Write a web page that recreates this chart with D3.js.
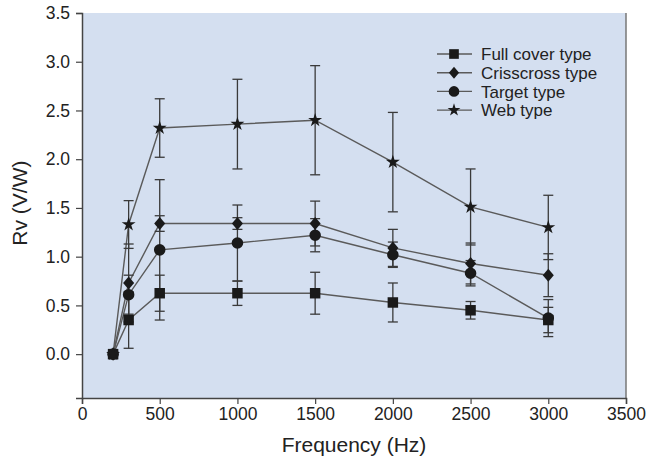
<!DOCTYPE html>
<html>
<head>
<meta charset="utf-8">
<script src="https://cdnjs.cloudflare.com/ajax/libs/d3/7.8.5/d3.min.js"></script>
<style>
  body { margin: 0; background: #fff; }
  text { font-family: "Liberation Sans", Arial, sans-serif; fill: #222; }
</style>
</head>
<body>
<script>
var width = 651;
var height = 465;

// data
var freq = [200, 300, 500, 1000, 1500, 2000, 2500, 3000];
var fullCover = [0, 0.35, 0.625, 0.625, 0.625, 0.53, 0.45, 0.35];
var fullCoverSd = [0, 0.29, 0.185, 0.125, 0.215, 0.20, 0.09, 0.13];
var crisscross = [0, 0.73, 1.34, 1.34, 1.34, 1.09, 0.93, 0.81];
var crisscrossSd = [0, 0.40, 0.08, 0.06, 0.23, 0.19, 0.21, 0.22];
var target = [0, 0.61, 1.07, 1.14, 1.22, 1.02, 0.83, 0.37];
var targetSd = [0, 0.20, 0.72, 0.39, 0.17, 0.13, 0.13, 0.19];
var web = [0, 1.33, 2.32, 2.36, 2.40, 1.97, 1.51, 1.30];
var webSd = [0, 0.245, 0.30, 0.46, 0.56, 0.51, 0.39, 0.33];

var seriesNames = ["Full cover type", "Crisscross type", "Target type", "Web type"];
var xTicks = [0, 500, 1000, 1500, 2000, 2500, 3000, 3500];
var yTicks = [0, 0.5, 1, 1.5, 2, 2.5, 3, 3.5];

var margin = {top: 13, right: 25, bottom: 67, left: 82};

var x = d3.scaleLinear().domain([0, 3500]).range([margin.left, width - margin.right]);
var y = d3.scaleLinear().domain([-0.45, 3.5]).range([height - margin.bottom, margin.top]);

// custom wide diamond
var wideDiamond = {
  draw: function (ctx, size) {
    var h = Math.sqrt(size) * 0.62, w = h * 0.85;
    ctx.moveTo(0, -h); ctx.lineTo(w, 0); ctx.lineTo(0, h); ctx.lineTo(-w, 0); ctx.closePath();
  }
};

var series = [
  {name: seriesNames[0], values: fullCover, sd: fullCoverSd, sym: d3.symbolSquare, size: 110},
  {name: seriesNames[1], values: crisscross, sd: crisscrossSd, sym: wideDiamond, size: 110},
  {name: seriesNames[2], values: target, sd: targetSd, sym: d3.symbolCircle, size: 105},
  {name: seriesNames[3], values: web, sd: webSd, sym: d3.symbolStar, size: 60}
];

var svg = d3.select("body").append("svg")
  .attr("width", width)
  .attr("height", height);

// plot background
svg.append("rect")
  .attr("x", x(0)).attr("y", y(3.5))
  .attr("width", x(3500) - x(0))
  .attr("height", y(-0.45) - y(3.5))
  .attr("fill", "#d4dff0");

// right frame line
svg.append("line")
  .attr("x1", x(3500)).attr("x2", x(3500))
  .attr("y1", y(3.5)).attr("y2", y(-0.45))
  .attr("stroke", "#777").attr("stroke-width", 1.5);

var xAxis = svg.append("g")
  .attr("transform", "translate(0," + y(-0.45) + ")")
  .call(d3.axisBottom(x).tickValues(xTicks).tickFormat(d3.format("d")).tickSizeOuter(0).tickSize(6).tickPadding(4));

var yAxis = svg.append("g")
  .attr("transform", "translate(" + x(0) + ",0)")
  .call(d3.axisLeft(y).tickValues(yTicks).tickFormat(d3.format(".1f")).tickSizeOuter(0).tickSize(6).tickPadding(6));

[xAxis, yAxis].forEach(function (g) {
  g.select(".domain").attr("stroke", "#444").attr("stroke-width", 1.5);
  g.selectAll(".tick line").attr("stroke", "#444").attr("stroke-width", 1.2);
  g.selectAll(".tick text").style("font-size", "17.5px").attr("fill", "#222")
    .style("font-family", "'Liberation Sans', Arial, sans-serif");
});

// axis titles
svg.append("text")
  .attr("x", (x(0) + x(3500)) / 2).attr("y", 452)
  .attr("text-anchor", "middle")
  .style("font-size", "21px")
  .text("Frequency (Hz)");

svg.append("text")
  .attr("transform", "translate(27," + y(1.55) + ") rotate(-90)")
  .attr("text-anchor", "middle")
  .style("font-size", "21px")
  .text("Rv (V/W)");

var line = d3.line()
  .x(function (d, i) { return x(freq[i]); })
  .y(function (d) { return y(d); });

// connecting lines
series.forEach(function (s) {
  svg.append("path")
    .datum(s.values)
    .attr("d", line)
    .attr("fill", "none")
    .attr("stroke", "#5a5a5a")
    .attr("stroke-width", 1.4);
});

// error bars
series.forEach(function (s) {
  var g = svg.append("g").attr("stroke", "#3a3a3a").attr("stroke-width", 1.3);
  s.values.forEach(function (v, i) {
    if (!s.sd[i]) return;
    var cx = x(freq[i]);
    var hi = y(v + s.sd[i]), lo = y(v - s.sd[i]);
    g.append("line").attr("x1", cx).attr("x2", cx).attr("y1", hi).attr("y2", lo);
    g.append("line").attr("x1", cx - 5).attr("x2", cx + 5).attr("y1", hi).attr("y2", hi);
    g.append("line").attr("x1", cx - 5).attr("x2", cx + 5).attr("y1", lo).attr("y2", lo);
  });
});

// markers
series.forEach(function (s) {
  svg.append("g").selectAll("path")
    .data(s.values)
    .enter().append("path")
    .attr("transform", function (d, i) { return "translate(" + x(freq[i]) + "," + y(d) + ")"; })
    .attr("d", d3.symbol().type(s.sym).size(s.size))
    .attr("fill", "#1a1a1a");
});

// legend
var legend = svg.append("g").attr("transform", "translate(437,54)");
series.forEach(function (s, i) {
  var row = legend.append("g").attr("transform", "translate(0," + i * 18.7 + ")");
  row.append("line").attr("x1", 0).attr("x2", 35).attr("y1", 0).attr("y2", 0)
    .attr("stroke", "#5a5a5a").attr("stroke-width", 1.4);
  row.append("path").attr("transform", "translate(17,0)")
    .attr("d", d3.symbol().type(s.sym).size(s.size * 0.85))
    .attr("fill", "#1a1a1a");
  row.append("text").attr("x", 44).attr("y", 0).attr("dy", "0.36em")
    .style("font-size", "17px")
    .text(s.name);
});
</script>
</body>
</html>
